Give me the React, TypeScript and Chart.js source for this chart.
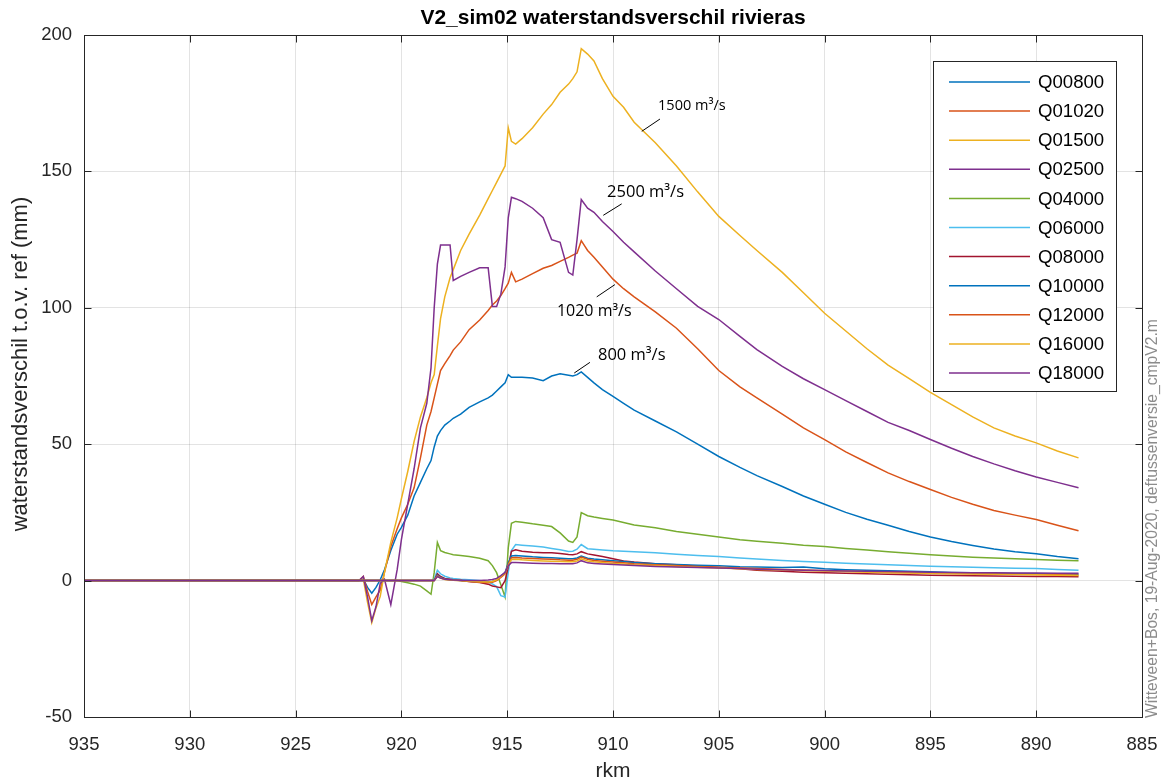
import React, { useEffect, useRef } from 'react';
import { Chart, registerables } from 'chart.js';

Chart.register(...registerables);

// ---- data (rkm along the river, values in mm) ----
const RKM = [
  935, 930, 925, 922.5, 922.0, 921.8, 921.6, 921.4, 921.2, 921.0,
  920.8, 920.5, 920.2, 920.0, 919.7, 919.4, 919.1, 918.8, 918.6, 918.45,
  918.3, 918.15, 917.95, 917.7, 917.55, 917.2, 916.8, 916.3, 915.9, 915.7,
  915.5, 915.3, 915.1, 914.95, 914.8, 914.6, 914.3, 913.8, 913.3, 912.9,
  912.5, 912.1, 911.9, 911.7, 911.5, 911.2, 910.9, 910.5, 910.0, 909.5,
  909.0, 908.0, 907.0, 906.0, 905.0, 904.0, 903.2, 902.0, 901.0, 900.0,
  899.0, 898.0, 897.0, 896.0, 895.0, 894.0, 893.0, 892.0, 891.0, 890.0,
  889.0, 888.0,
];

const Q00800 = [
  0, 0, 0, 0, 0, 0.5, -2.5, -4.6, -2.5, 0.3,
  4, 11, 17, 19.5, 24, 31, 36, 41, 44, 49,
  53, 55, 57, 58.5, 59.5, 61, 63.5, 65.5, 67, 68,
  69.5, 71, 72.5, 75.5, 74.5, 74.5, 74.5, 74.3, 73.3, 75,
  75.8, 75.3, 75, 75.5, 76.5, 74.5, 72.5, 70, 67.5, 65,
  62.5, 58.5, 54.5, 50, 45.5, 41.5, 38.5, 34.5, 31, 28,
  25, 22.5, 20.3, 18, 16, 14.3, 12.9, 11.6, 10.6, 9.8,
  8.8, 8.0,
];
const Q01020 = [
  0, 0, 0, 0, 0, 1.5, -4, -8.8, -6, -3.5,
  3, 12.5, 19, 23, 28, 34, 45, 57, 62, 67,
  72, 77, 79.5, 82.5, 84.5, 87.5, 92, 95.5, 99, 101,
  102.5, 104.5, 107, 109, 113, 109.5, 110.5, 112.5, 114.5, 115.5,
  117, 118.5, 119.3, 120, 124.6, 121, 118.5, 115, 110.5, 107,
  104, 98.5, 92.5, 85, 77, 71, 67, 61, 56, 51.7,
  47.2, 43.3, 39.5, 36.3, 33.4, 30.5, 28, 25.7, 24, 22.4,
  20.3, 18.3,
];
const Q01500 = [
  0, 0, 0, 0, 0, 0.5, -8, -15.4, -10, -5.8,
  3, 14, 23, 30, 40, 51, 60, 67, 72.5, 75.5,
  86, 96, 104, 111, 114, 121, 127, 134, 140, 143,
  146, 149, 152, 166, 161, 160, 162, 166, 171, 174.5,
  179, 182, 184, 186.5, 195, 193, 190.5, 184, 177.5, 173.5,
  168, 160.5, 152, 142.5, 133.5, 126.5, 121, 113, 105.5, 98,
  91.5, 85, 79, 74, 69, 64.5, 60, 56, 53, 50.5,
  47.5, 45,
];
const Q02500 = [
  0, 0, 0, 0, 0, 1.5, -6, -14.7, -9.5, -1,
  0.5, -8.8, 4, 15, 28, 41, 56, 65, 78, 100,
  116, 123, 123, 123, 110, 111.5, 113, 114.7, 114.7, 100.5,
  100.5, 105, 115, 133, 140.5, 140, 139, 136.5, 133, 125,
  124, 113, 112, 125, 139.7, 136.5, 135, 131.6, 128, 124,
  120.5, 113.5, 107, 100.5, 95.7, 89.5, 84.7, 78.5, 74, 70,
  66, 62, 58, 55, 51.7, 48.5, 45.5, 42.8, 40.3, 38,
  36, 34,
];
const Q04000 = [
  0, 0, 0, 0, 0, 0, 0, 0, 0, 0,
  0, 0, 0, -0.3, -0.8, -1.3, -2, -3.8, -5, 3,
  14, 11, 10.3, 9.8, 9.5, 9.2, 8.8, 8.2, 7.3, 5.5,
  2.9, -1.5, -6, 12, 21, 21.7, 21.4, 20.8, 20.3, 19.8,
  17.5, 14.5, 14, 16, 24.9, 23.8, 23.3, 22.8, 22.2, 21.3,
  20.4, 19.4, 18, 17, 16, 15, 14.4, 13.7, 13, 12.5,
  11.8, 11.2, 10.6, 10, 9.5, 9.0, 8.6, 8.3, 8.0, 7.7,
  7.5, 7.3,
];
const Q06000 = [
  0, 0, 0, 0, 0, 0, 0, 0, 0, 0,
  0, 0, 0, 0, 0, 0, 0, 0, 0, 0.5,
  3.8, 2.5, 1.6, 1.0, 0.8, 0.5, 0.3, 0, -0.5, -1.2,
  -2.2, -5.5, -6, 3, 11, 13.2, 13, 12.7, 12.3, 11.8,
  11.3, 10.7, 10.8, 11.5, 13.2, 11.7, 11.5, 11.2, 10.9, 10.8,
  10.6, 10.2, 9.7, 9.2, 8.8, 8.3, 7.9, 7.4, 7.0, 6.7,
  6.4, 6.1, 5.8, 5.5, 5.3, 5.1, 4.9, 4.7, 4.5, 4.4,
  4.1, 3.8,
];
const Q08000 = [
  0, 0, 0, 0, 0, 0, 0, 0, 0, 0,
  0, 0, 0, 0, 0, 0, 0, 0, 0, 0,
  2.5, 1.5, 0.8, 0.5, 0.3, 0, -0.3, -0.7, -1.3, -2,
  -2.3, -2.6, 0, 5, 10.7, 11.3, 10.8, 10.4, 10.2, 10.2,
  9.9, 9.6, 9.5, 9.8, 10.6, 9.8, 9.4, 8.8, 8.0, 7.2,
  6.8, 6.2, 5.8, 5.3, 4.8, 4.3, 3.8, 3.4, 3.1, 2.9,
  2.7, 2.5, 2.3, 2.1, 2.0, 1.9, 1.8, 1.7, 1.6, 1.5,
  1.5, 1.4,
];
const Q10000 = [
  0, 0, 0, 0, 0, 0, 0, 0, 0, 0,
  0, 0, 0, 0, 0, 0, 0, 0, 0, 0,
  2, 1.2, 0.6, 0.3, 0.2, 0, -0.2, -0.4, -0.5, -0.3,
  0.2, 1.5, 3, 6.5, 9.0, 9.2, 9.0, 8.7, 8.5, 8.4,
  8.2, 8.0, 8.0, 8.3, 9.0, 8.2, 7.9, 7.6, 7.3, 7.0,
  6.6, 6.2, 5.9, 5.6, 5.4, 5.1, 5.0, 4.8, 5.0, 4.3,
  4.0, 3.8, 3.6, 3.4, 3.2, 3.0, 2.9, 2.7, 2.6, 2.5,
  2.4, 2.3,
];
const Q12000 = [
  0, 0, 0, 0, 0, 0, 0, 0, 0, 0,
  0, 0, 0, 0, 0, 0, 0, 0, 0, 0,
  1.8, 1.0, 0.5, 0.3, 0.1, 0, -0.3, -0.6, -0.8, -0.6,
  0, 1.2, 2.5, 6, 8.4, 8.5, 8.3, 8.1, 7.9, 7.8,
  7.6, 7.5, 7.5, 7.8, 8.6, 7.8, 7.4, 7.1, 6.8, 6.5,
  6.2, 5.8, 5.5, 5.2, 4.9, 4.6, 4.4, 4.1, 3.9, 3.6,
  3.4, 3.2, 3.0, 2.9, 2.7, 2.6, 2.5, 2.4, 2.3, 2.2,
  2.1, 2.0,
];
const Q16000 = [
  0, 0, 0, 0, 0, 0, 0, 0, 0, 0,
  0, 0, 0, 0, 0, 0, 0, 0, 0, 0,
  1.6, 0.9, 0.4, 0.2, 0.1, 0, -0.2, -0.4, -0.5, -0.3,
  0.3, 1.5, 2.8, 5.5, 7.7, 7.8, 7.6, 7.4, 7.2, 7.1,
  7.0, 6.9, 6.9, 7.2, 8.0, 7.2, 6.9, 6.6, 6.3, 6.1,
  5.8, 5.5, 5.2, 4.9, 4.6, 4.3, 4.1, 3.9, 3.7, 3.5,
  3.3, 3.1, 2.9, 2.8, 2.6, 2.5, 2.4, 2.3, 2.2, 2.1,
  2.0, 1.9,
];
const Q18000 = [
  0, 0, 0, 0, 0, 0, 0, 0, 0, 0,
  0, 0, 0, 0, 0, 0, 0, 0, 0, 0,
  1.5, 0.9, 0.5, 0.3, 0.2, 0.1, 0, 0, 0.2, 0.4,
  0.8, 1.8, 3.0, 5.5, 6.6, 6.6, 6.5, 6.4, 6.3, 6.3,
  6.2, 6.2, 6.2, 6.5, 7.3, 6.5, 6.3, 6.1, 5.9, 5.7,
  5.5, 5.2, 5.0, 4.8, 4.6, 4.4, 4.2, 4.0, 3.8, 3.7,
  3.5, 3.4, 3.3, 3.2, 3.1, 3.0, 2.9, 2.9, 2.8, 2.8,
  2.7, 2.7,
];

const SERIES_NAMES = ['Q00800', 'Q01020', 'Q01500', 'Q02500', 'Q04000', 'Q06000', 'Q08000', 'Q10000', 'Q12000', 'Q16000', 'Q18000'];
const SERIES_VALUES = [Q00800, Q01020, Q01500, Q02500, Q04000, Q06000, Q08000, Q10000, Q12000, Q16000, Q18000];
const SERIES_COLORS = ['#0072BD', '#D95319', '#EDB120', '#7E2F8E', '#77AC30', '#4DBEEE', '#A2142F', '#0072BD', '#D95319', '#EDB120', '#7E2F8E'];

const X_TICKS = [935, 930, 925, 920, 915, 910, 905, 900, 895, 890, 885];
const Y_TICKS = [-50, 0, 50, 100, 150, 200];

const TITLE = 'V2_sim02 waterstandsverschil rivieras';
const X_LABEL = 'rkm';
const Y_LABEL = 'waterstandsverschil t.o.v. ref (mm)';
const SIDE_NOTE = 'Witteveen+Bos, 19-Aug-2020, deftussenversie_cmpV2.m';

// text labels pointing at curves (in data units)
const ANNOTATIONS = [
  { text: '1500 m³/s', tx: 907.87, ty: 174.1, x1: 908.64, y1: 164.7, x2: 907.78, y2: 169.2, size: 14.5 },
  { text: '2500 m³/s', tx: 910.28, ty: 142.2, x1: 910.46, y1: 133.9, x2: 909.59, y2: 138.1, size: 16.5 },
  { text: '1020 m³/s', tx: 912.65, ty: 98.6, x1: 910.77, y1: 104.0, x2: 909.91, y2: 108.5, size: 16 },
  { text: '800 m³/s', tx: 910.71, ty: 82.5, x1: 911.83, y1: 76.1, x2: 911.09, y2: 80.0, size: 16.5 },
];

const FONT = "'Liberation Sans', Arial, Helvetica, sans-serif";
const AXIS_COLOR = '#262626';

const decorPlugin = {
  id: 'decor',
  afterDraw(chart: any) {
    const { ctx, chartArea: a, scales } = chart;
    const xs = scales.x;
    const ys = scales.y;
    const L = Math.round(a.left) + 0.5;
    const R = Math.round(a.right) + 0.5;
    const T = Math.round(a.top) + 0.5;
    const B = Math.round(a.bottom) + 0.5;
    ctx.save();

    // annotations
    ANNOTATIONS.forEach((an) => {
      ctx.strokeStyle = '#000';
      ctx.lineWidth = 1;
      ctx.beginPath();
      ctx.moveTo(xs.getPixelForValue(an.x1), ys.getPixelForValue(an.y1));
      ctx.lineTo(xs.getPixelForValue(an.x2), ys.getPixelForValue(an.y2));
      ctx.stroke();
      ctx.fillStyle = '#000';
      ctx.font = `${an.size}px 'Open Sans', 'Noto Sans', sans-serif`;
      ctx.textAlign = 'left';
      ctx.textBaseline = 'middle';
      ctx.fillText(an.text, xs.getPixelForValue(an.tx), ys.getPixelForValue(an.ty));
    });

    // axes box
    ctx.strokeStyle = AXIS_COLOR;
    ctx.lineWidth = 1;
    ctx.strokeRect(L, T, R - L, B - T);

    // inward ticks on all sides
    const TL = 7;
    ctx.beginPath();
    X_TICKS.forEach((v) => {
      const px = Math.round(xs.getPixelForValue(v)) + 0.5;
      ctx.moveTo(px, B);
      ctx.lineTo(px, B - TL);
      ctx.moveTo(px, T);
      ctx.lineTo(px, T + TL);
    });
    Y_TICKS.forEach((v) => {
      const py = Math.round(ys.getPixelForValue(v)) + 0.5;
      ctx.moveTo(L, py);
      ctx.lineTo(L + TL, py);
      ctx.moveTo(R, py);
      ctx.lineTo(R - TL, py);
    });
    ctx.stroke();

    // title
    const cx = (a.left + a.right) / 2;
    ctx.fillStyle = '#000';
    ctx.font = `bold 21px ${FONT}`;
    ctx.textAlign = 'center';
    ctx.textBaseline = 'middle';
    ctx.fillText(TITLE, cx, 18);

    // x label
    ctx.fillStyle = AXIS_COLOR;
    ctx.font = `21px ${FONT}`;
    ctx.fillText(X_LABEL, cx, 771);

    // y label
    ctx.save();
    ctx.translate(21, 364);
    ctx.rotate(-Math.PI / 2);
    ctx.font = `22px ${FONT}`;
    ctx.fillText(Y_LABEL, 0, 0);
    ctx.restore();

    // side note
    ctx.save();
    ctx.translate(1153, 718);
    ctx.rotate(-Math.PI / 2);
    ctx.fillStyle = '#8c8c8c';
    ctx.font = `15.7px ${FONT}`;
    ctx.textAlign = 'left';
    ctx.fillText(SIDE_NOTE, 0, 0);
    ctx.restore();

    // legend
    const lx = 933.5, ly = 61.5, lw = 183, lh = 330;
    ctx.fillStyle = '#fff';
    ctx.fillRect(lx, ly, lw, lh);
    ctx.strokeStyle = AXIS_COLOR;
    ctx.lineWidth = 1;
    ctx.strokeRect(lx, ly, lw, lh);
    ctx.font = `18.6px ${FONT}`;
    ctx.textAlign = 'left';
    ctx.textBaseline = 'middle';
    SERIES_NAMES.forEach((name, i) => {
      const yy = 82 + i * 29.1;
      ctx.strokeStyle = SERIES_COLORS[i];
      ctx.lineWidth = 1.5;
      ctx.beginPath();
      ctx.moveTo(949, yy);
      ctx.lineTo(1030, yy);
      ctx.stroke();
      ctx.fillStyle = '#000';
      ctx.fillText(name, 1038, yy + 1);
    });

    ctx.restore();
  },
};

export default function App() {
  const canvasRef = useRef<HTMLCanvasElement | null>(null);

  useEffect(() => {
    const canvas = canvasRef.current;
    if (!canvas) return;
    const datasets = SERIES_NAMES.map((name, i) => ({
      label: name,
      data: RKM.map((x, k) => ({ x, y: SERIES_VALUES[i][k] })),
      borderColor: SERIES_COLORS[i],
      backgroundColor: SERIES_COLORS[i],
      borderWidth: 1.5,
      pointRadius: 0,
      fill: false,
      tension: 0,
      order: SERIES_NAMES.length - i,
    }));

    const chart = new Chart(canvas, {
      type: 'line',
      data: { datasets },
      options: {
        animation: false,
        responsive: false,
        devicePixelRatio: 1,
        layout: { padding: { left: 0, right: 26, top: 35, bottom: 0 } },
        plugins: {
          legend: { display: false },
          title: { display: false },
          tooltip: { enabled: false },
        },
        scales: {
          x: {
            type: 'linear',
            reverse: true,
            min: 885,
            max: 935,
            afterBuildTicks: (scale: any) => {
              scale.ticks = X_TICKS.map((v) => ({ value: v }));
            },
            afterFit: (scale: any) => {
              scale.height = 64;
              scale.paddingLeft = 0;
              scale.paddingRight = 0;
            },
            ticks: {
              color: AXIS_COLOR,
              font: { family: FONT, size: 18.5 },
              padding: 17,
              maxRotation: 0,
              autoSkip: false,
              callback: (v: any) => String(v),
            },
            grid: { color: 'rgba(38,38,38,0.13)', lineWidth: 1, drawTicks: false },
            border: { display: false },
          },
          y: {
            type: 'linear',
            min: -50,
            max: 200,
            afterBuildTicks: (scale: any) => {
              scale.ticks = Y_TICKS.map((v) => ({ value: v }));
            },
            afterFit: (scale: any) => {
              scale.width = 84;
              scale.paddingTop = 0;
              scale.paddingBottom = 0;
            },
            ticks: {
              color: AXIS_COLOR,
              font: { family: FONT, size: 18.5 },
              padding: 12,
              autoSkip: false,
              callback: (v: any) => String(v),
            },
            grid: { color: 'rgba(38,38,38,0.13)', lineWidth: 1, drawTicks: false },
            border: { display: false },
          },
        },
      },
      plugins: [decorPlugin],
    });
    return () => chart.destroy();
  }, []);

  return (
    <div style={{ position: 'fixed', left: 0, top: 0, width: 1168, height: 781, background: '#fff' }}>
      <canvas ref={canvasRef} width={1168} height={781} style={{ width: 1168, height: 781, display: 'block' }} />
    </div>
  );
}
